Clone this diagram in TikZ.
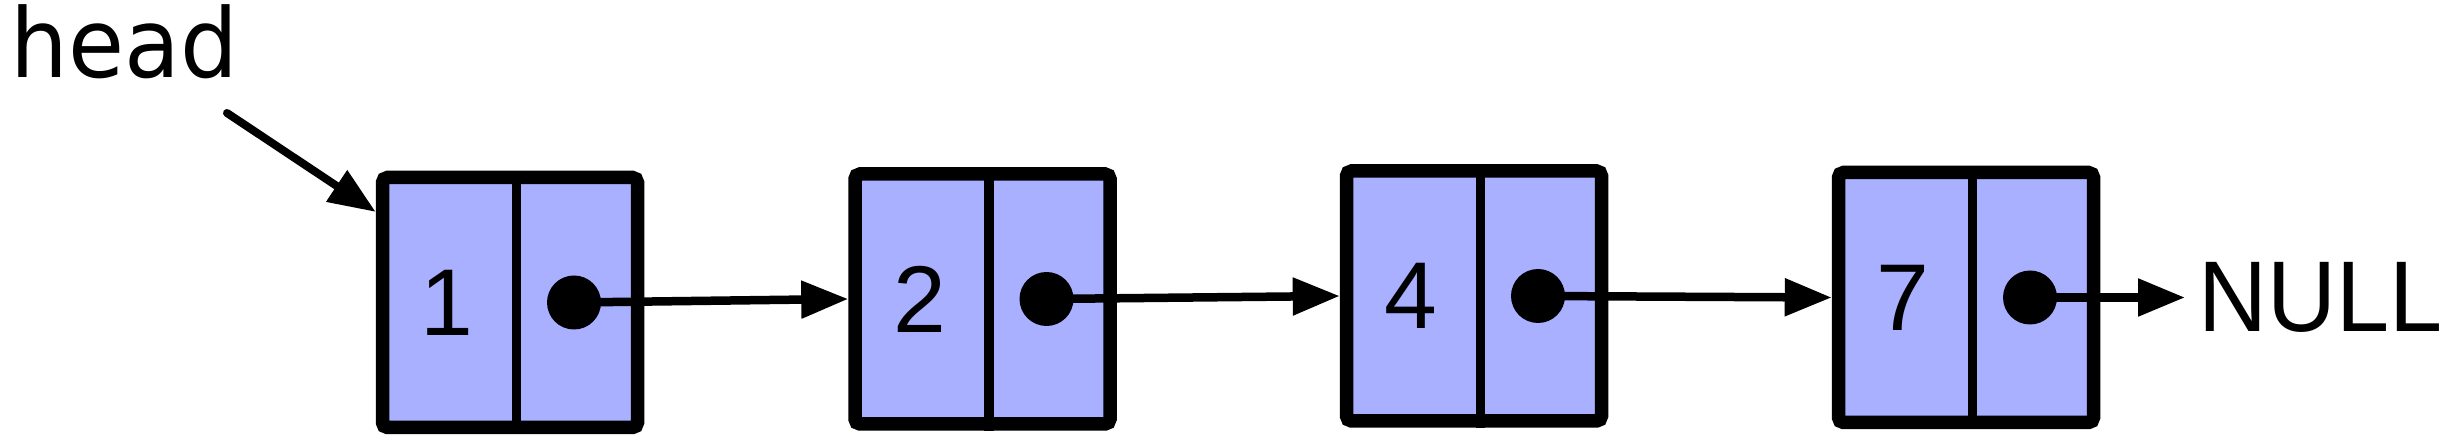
\documentclass[tikz,border=0pt]{standalone}
\usepackage{graphicx}
\usepackage{fontspec}
\usepackage{tikz}
\usetikzlibrary{arrows.meta,positioning,calc}
\setmainfont{Liberation Sans}
\newfontfamily\headfont{DejaVu Sans}
\newfontfamily\numfont{Liberation Sans}
\definecolor{nodeblue}{HTML}{A8B0FF}

\begin{document}
\begin{tikzpicture}[>={Triangle[length=0.47cm, width=0.36cm]}]

%%% ---------- bounding box ----------
\useasboundingbox (0,0) rectangle (24.42,4.36);

\tikzset{
    cellbox/.style={draw=black, fill=nodeblue, line width=0.135cm, rounded corners=0.05cm,
                    minimum width=2.55cm, minimum height=2.5cm, inner sep=0pt},
    ptrdot/.style={circle, fill=black, minimum size=0.54cm, inner sep=0pt},
    link/.style={->, line width=0.085cm},
    valtext/.style={font=\numfont\fontsize{27}{27}\selectfont, inner sep=0pt},
}

% one list element: #1 index, #2 position, #3 value
\def\listnode#1#2#3{
    \node[cellbox] (box#1) at #2 {};
    % divider
    \draw[line width=0.095cm] ([xshift=0.065cm]box#1.north) -- ([xshift=0.065cm]box#1.south);
    % value
    \node[valtext] (val#1) at ([xshift=-0.63cm]box#1.center) {\numfont #3};
    % pointer
    \node[ptrdot] (dot#1) at ([xshift=0.64cm]box#1.center) {};
}

\listnode{1}{(5.10,1.335)}{1}
\listnode{2}{(9.825,1.37)}{2}
\listnode{3}{(14.74,1.40)}{4}
\listnode{4}{(19.66,1.385)}{7}

% head label
\node[anchor=base west, inner sep=0pt, font=\headfont\fontsize{27.3}{27.3}\selectfont]
    (head) at (0.10,3.58) {\scalebox{0.95}[1]{head}};
\coordinate (headtail) at (2.27,3.23);
\draw[link, line width=0.08cm, line cap=round] (headtail) -- (box1.146);

% NULL label
\node[anchor=base west, inner xsep=0.13cm, inner ysep=0pt, font=\numfont\fontsize{28.6}{28.6}\selectfont]
    (null) at (21.85,1.04) {\scalebox{0.95}[1]{NULL}};

\foreach \i [evaluate=\i as \next using int(\i+1)] in {1,2,3} {
    \draw[link] (dot\i.center) -- (box\next.west);
}
\draw[link] (dot4.center) -- (dot4 -| null.west);

\end{tikzpicture}
\end{document}
